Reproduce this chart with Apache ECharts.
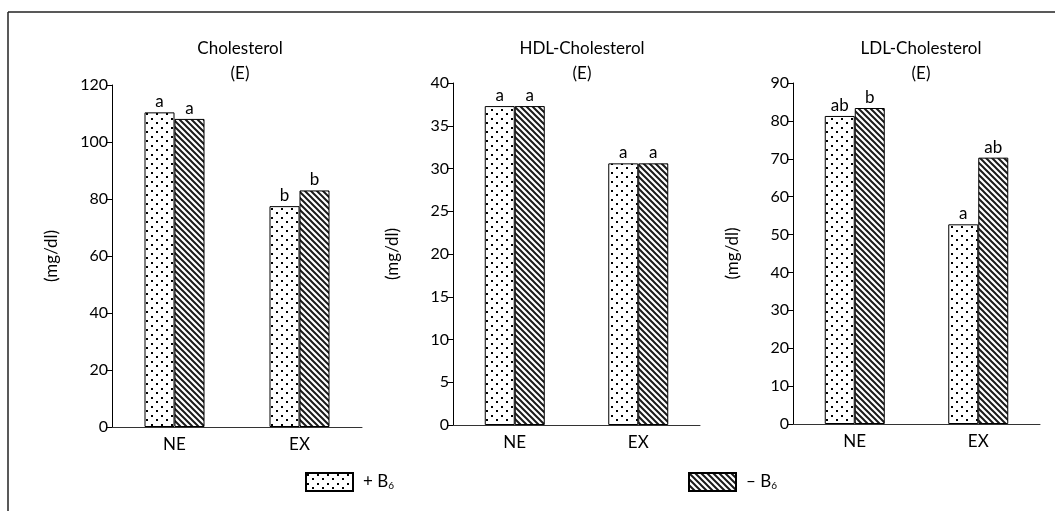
<!DOCTYPE html>
<html>
<head>
<meta charset="utf-8">
<script src="https://cdn.jsdelivr.net/npm/echarts@6/dist/echarts.min.js"></script>
<style>
  html, body { margin: 0; padding: 0; background: #fff; }
  #chart { width: 1055px; height: 511px; }
</style>
</head>
<body>
<div id="chart"></div>
<script>
// data
const groups = ['NE', 'EX'];
const panelTitles = ['Cholesterol', 'HDL-Cholesterol', 'LDL-Cholesterol'];
const yMax = [120, 40, 90];
const yStep = [20, 5, 10];

const cholPlus = [110.4, 77.5];
const cholMinus = [108.1, 83.0];
const hdlPlus = [37.3, 30.6];
const hdlMinus = [37.3, 30.6];
const ldlPlus = [81.3, 52.7];
const ldlMinus = [83.4, 70.3];

const cholPlusLetters = ['a', 'b'];
const cholMinusLetters = ['a', 'b'];
const hdlPlusLetters = ['a', 'a'];
const hdlMinusLetters = ['a', 'a'];
const ldlPlusLetters = ['ab', 'a'];
const ldlMinusLetters = ['b', 'ab'];

const plusValues = [cholPlus, hdlPlus, ldlPlus];
const minusValues = [cholMinus, hdlMinus, ldlMinus];
const plusLetters = [cholPlusLetters, hdlPlusLetters, ldlPlusLetters];
const minusLetters = [cholMinusLetters, hdlMinusLetters, ldlMinusLetters];

// fill patterns
function dotPattern() {
    const c = document.createElement('canvas');
    c.width = 10; c.height = 9;
    const ctx = c.getContext('2d');
    ctx.fillStyle = '#fff';
    ctx.fillRect(0, 0, 10, 9);
    ctx.fillStyle = '#000';
    ctx.fillRect(1, 1, 2, 2);
    ctx.fillRect(6, 5, 2, 2);
    return c;
}
function hatchPattern() {
    const c = document.createElement('canvas');
    c.width = 6; c.height = 6;
    const ctx = c.getContext('2d');
    ctx.fillStyle = '#fff';
    ctx.fillRect(0, 0, 6, 6);
    ctx.strokeStyle = '#1a1a1a';
    ctx.lineWidth = 2;
    ctx.beginPath();
    ctx.moveTo(-1, -1); ctx.lineTo(7, 7);
    ctx.moveTo(-4, 2); ctx.lineTo(2, 8);
    ctx.moveTo(2, -4); ctx.lineTo(8, 2);
    ctx.stroke();
    return c;
}
const dots = { image: dotPattern(), repeat: 'repeat' };
const hatch = { image: hatchPattern(), repeat: 'repeat' };

const font = 'Lato';
const grids = [
    { left: 112, top: 85, width: 250, height: 342 },
    { left: 453, top: 83, width: 247, height: 342 },
    { left: 793, top: 83, width: 247, height: 341 },
];
const titleX = [235, 577, 916];
const legendText = { fontFamily: font, fontSize: 17, color: '#000', padding: [0, 0, 0, 5],
    rich: { s: { fontSize: 10, verticalAlign: 'bottom', padding: [8, 0, 0, 0] } } };

const option = {
    backgroundColor: '#fff',
    animation: false,
    textStyle: { fontFamily: font, color: '#000' },
    title: titleX.map((x, i) => ({
        text: panelTitles[i] + '\n(E)',
        left: x,
        top: 31,
        textAlign: 'center',
        textStyle: { fontFamily: font, fontSize: 17, fontWeight: 'normal', color: '#000', lineHeight: 25, align: 'center' },
    })),
    legend: [
        {
            data: ['+B6'], left: 300, top: 467, itemWidth: 47, itemHeight: 18, icon: 'rect',
            formatter: () => '+ B{s|6}', textStyle: legendText,
        },
        {
            data: ['-B6'], left: 683, top: 467, itemWidth: 47, itemHeight: 18, icon: 'rect',
            formatter: () => '– B{s|6}', textStyle: legendText,
        },
    ],
    grid: grids,
    xAxis: grids.map((g, i) => ({
        type: 'category',
        gridIndex: i,
        data: groups,
        axisLine: { lineStyle: { color: '#333', width: 1 } },
        axisTick: { inside: true, length: 5, lineStyle: { color: '#333' } },
        axisLabel: { fontFamily: font, fontSize: 17, color: '#000', margin: 9 },
    })),
    yAxis: grids.map((g, i) => ({
        type: 'value',
        gridIndex: i,
        min: 0,
        max: yMax[i],
        interval: yStep[i],
        name: '(mg/dl)',
        nameLocation: 'middle',
        nameRotate: 90,
        nameGap: 52,
        nameTextStyle: { fontFamily: font, fontSize: 17, color: '#000' },
        axisLine: { show: true, lineStyle: { color: '#000', width: 1 } },
        axisTick: { show: true, length: 6, lineStyle: { color: '#000' } },
        axisLabel: { fontFamily: font, fontSize: 16, color: '#000', margin: 4 },
        splitLine: { show: false },
    })),
    series: [],
    graphic: [
        { type: 'line', shape: { x1: 8, y1: 12, x2: 1055, y2: 12 }, style: { stroke: '#222', lineWidth: 1.5 } },
        { type: 'line', shape: { x1: 8, y1: 12, x2: 8, y2: 511 }, style: { stroke: '#222', lineWidth: 1.5 } },
    ],
};

for (let i = 0; i < 3; i++) {
    option.series.push({
        name: '+B6', type: 'bar', xAxisIndex: i, yAxisIndex: i,
        data: plusValues[i], barWidth: 30, barGap: '0%',
        itemStyle: { color: dots, borderColor: '#000', borderWidth: 1 },
        label: {
            show: true, position: 'top', distance: 2, fontFamily: font, fontSize: 17, color: '#000',
            formatter: p => plusLetters[i][p.dataIndex],
        },
    });
    option.series.push({
        name: '-B6', type: 'bar', xAxisIndex: i, yAxisIndex: i,
        data: minusValues[i], barWidth: 30, barGap: '0%',
        itemStyle: { color: hatch, borderColor: '#000', borderWidth: 1 },
        label: {
            show: true, position: 'top', distance: 2, fontFamily: font, fontSize: 17, color: '#000',
            formatter: p => minusLetters[i][p.dataIndex],
        },
    });
}

const chart = echarts.init(document.getElementById('chart'), null, { renderer: 'canvas' });
chart.setOption(option);
</script>
</body>
</html>
